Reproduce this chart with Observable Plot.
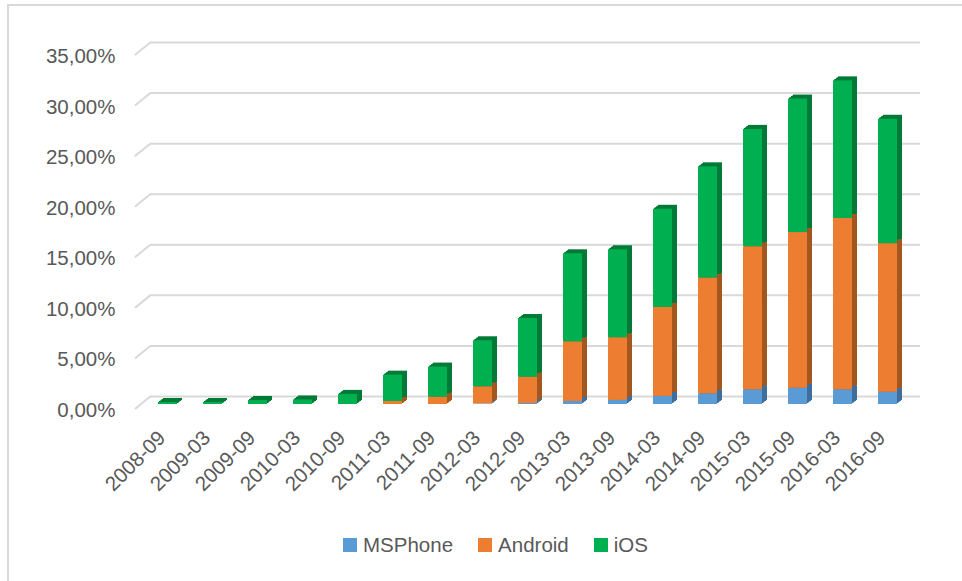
<!DOCTYPE html>
<html>
<head>
<meta charset="utf-8">
<script src="https://cdn.jsdelivr.net/npm/d3@7"></script>
<script src="https://cdn.jsdelivr.net/npm/@observablehq/plot@0.6"></script>
<style>
  html, body { margin: 0; padding: 0; background: #fff; }
  #wrap { position: relative; width: 962px; height: 581px; overflow: hidden; font-family: "Liberation Sans", Arial, sans-serif; }
  #frame { position: absolute; left: 7px; top: 4px; right: -10px; bottom: -10px; border-top: 2px solid #d9d9d9; border-left: 2px solid #d9d9d9; }
  #chart { position: absolute; left: 0; top: 0; }
  #legend { position: absolute; left: 0; top: 533px; width: 962px; padding-left: 29px; box-sizing: border-box; display: flex; justify-content: center; align-items: center; gap: 25px; font-size: 20.5px; color: #595959; line-height: 24px; }
  .item { display: flex; align-items: center; gap: 6px; }
  .sw { width: 14px; height: 14px; display: inline-block; }
</style>
</head>
<body>
<div id="wrap">
  <div id="frame"></div>
  <div id="chart"></div>
  <div id="legend"></div>
</div>
<script>
const categories = ["2008-09","2009-03","2009-09","2010-03","2010-09","2011-03","2011-09","2012-03","2012-09","2013-03","2013-09","2014-03","2014-09","2015-03","2015-09","2016-03","2016-09"];
const msphone = [0,0,0,0,0,0,0,0.05,0.1,0.3,0.4,0.8,1.05,1.45,1.6,1.45,1.2];
const android = [0,0,0,0,0,0.3,0.72,1.7,2.6,5.9,6.2,8.8,11.45,14.15,15.4,16.95,14.7];
const ios = [0.2,0.2,0.4,0.45,1.0,2.6,2.98,4.55,5.8,8.7,8.7,9.7,11.0,11.6,13.2,13.6,12.3];
const seriesNames = ["MSPhone","Android","iOS"];
const yTicks = [0,5,10,15,20,25,30,35];

const frontColor = {MSPhone: "#5b9bd5", Android: "#ed7d31", iOS: "#00b050"};
const sideColor = {MSPhone: "#3e6f9c", Android: "#a4561f", iOS: "#007a36"};

const seriesValues = [msphone, android, ios];
const data = [];
categories.forEach((c, i) => {
  seriesNames.forEach((s, k) => data.push({cat: c, series: s, value: seriesValues[k][i]}));
});

const W = 962, H = 525;
const textColor = "#595959";
const lineShape = {draw(ctx, l) { ctx.moveTo(0, 0); ctx.lineTo(0, -l); }};

const depth = [[1,-1],[2,-1.5],[3,-2.5],[4,-3],[5,-4]];
const sideMarks = depth.map(([dx, dy]) =>
  Plot.barY(data, Plot.stackY({x: "cat", y: "value", fill: d => sideColor[d.series], dx, dy, order: null}))
);

const plot = Plot.plot({
  width: W,
  height: H,
  marginLeft: 130,
  marginRight: 37,
  marginTop: 50,
  marginBottom: H - 404,
  style: {fontFamily: "'Liberation Sans', Arial, sans-serif", fontSize: "20px", color: textColor, background: "transparent"},
  x: {domain: categories, padding: 0.58, label: null},
  y: {domain: [0, 35], label: null},
  color: {type: "identity"},
  marks: [
    Plot.ruleY(yTicks, {y: d => d, stroke: "#d9d9d9", strokeWidth: 2, dy: -8, insetLeft: 20, insetRight: 5}),
    Plot.vector(yTicks, {y: d => d, frameAnchor: "left", length: 19, rotate: 51, anchor: "start", shape: lineShape, stroke: "#d9d9d9", strokeWidth: 2, dx: 5, dy: 4}),
    ...sideMarks,
    Plot.barY(data, Plot.stackY({x: "cat", y: "value", fill: d => frontColor[d.series], order: null})),
    Plot.axisY({ticks: yTicks, tickSize: 0, tickPadding: 15, dy: 6, tickFormat: d => d.toFixed(2).replace(".", ",") + "%", fill: textColor, fontSize: 20.5, label: null}),
    Plot.axisX({tickRotate: -45, tickSize: 0, tickPadding: 30, dx: -6, fill: textColor, fontSize: 20.5, label: null})
  ]
});
document.getElementById("chart").appendChild(plot);

const legend = document.getElementById("legend");
seriesNames.forEach(s => {
  const it = document.createElement("div");
  it.className = "item";
  const sw = document.createElement("span");
  sw.className = "sw";
  sw.style.background = frontColor[s];
  const tx = document.createElement("span");
  tx.textContent = s;
  it.appendChild(sw); it.appendChild(tx);
  legend.appendChild(it);
});
</script>
</body>
</html>
